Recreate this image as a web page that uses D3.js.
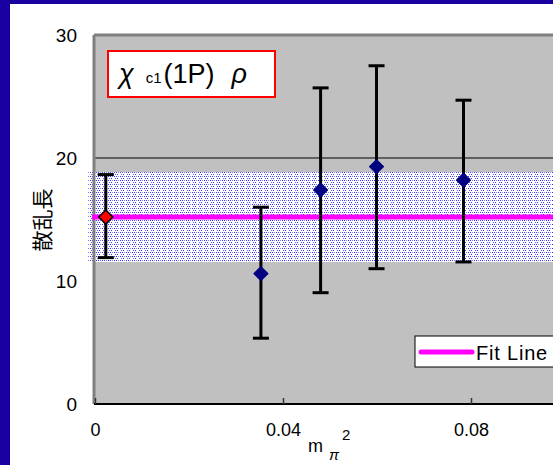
<!DOCTYPE html>
<html>
<head>
<meta charset="utf-8">
<script src="https://cdn.jsdelivr.net/npm/d3@7"></script>
<style>
  body { margin: 0; background: #fff; }
  svg { display: block; font-family: "Liberation Sans", Arial, sans-serif; }
</style>
</head>
<body>
<svg id="chart"></svg>
<script>
// データ
const xValues = [0.0023, 0.0353, 0.048, 0.0599, 0.0784];
const yValues = [15.2, 10.6, 17.4, 19.3, 18.2];
const yUpper = [18.65, 16.0, 25.7, 27.5, 24.7];
const yLower = [11.9, 5.35, 9.05, 11.0, 11.55];
const fitValue = 15.2;
const fitBand = [11.55, 18.85];
const xTicks = [0, 0.04, 0.08];
const yTicks = [0, 10, 20, 30];

const width = 553;
const height = 465;

const svg = d3.select("#chart")
    .attr("width", width)
    .attr("height", height);

// 枠
svg.append("rect").attr("x", 0).attr("y", 0).attr("width", width).attr("height", height).attr("fill", "#1800a0");
svg.append("rect").attr("x", 10).attr("y", 4).attr("width", width - 10).attr("height", height - 4).attr("fill", "#fff");

const plotLeft = 94, plotTop = 35, plotBottom = 404, plotRight = 560;

const x = d3.scaleLinear().domain([0, 0.04]).range([95, 283]);
const y = d3.scaleLinear().domain([0, 30]).range([404, 35]);

// パターン (帯)
const defs = svg.append("defs");
const pat = defs.append("pattern")
    .attr("id", "band")
    .attr("width", 6).attr("height", 4)
    .attr("patternUnits", "userSpaceOnUse");
pat.append("rect").attr("width", 6).attr("height", 4).attr("fill", "#fff");
pat.append("rect").attr("x", 0).attr("y", 0).attr("width", 1).attr("height", 1).attr("fill", "#3030ff");
pat.append("rect").attr("x", 2).attr("y", 0).attr("width", 1).attr("height", 1).attr("fill", "#3030ff");
pat.append("rect").attr("x", 4).attr("y", 0).attr("width", 1).attr("height", 1).attr("fill", "#8080ff");
pat.append("rect").attr("x", 1).attr("y", 2).attr("width", 1).attr("height", 1).attr("fill", "#6060ff");
pat.append("rect").attr("x", 3).attr("y", 2).attr("width", 1).attr("height", 1).attr("fill", "#3030ff");

// 背景
svg.append("rect")
    .attr("x", plotLeft).attr("y", plotTop)
    .attr("width", plotRight - plotLeft).attr("height", plotBottom - plotTop)
    .attr("fill", "#c0c0c0");

// グリッド線 (20 のみ)
svg.append("line")
    .attr("x1", plotLeft).attr("x2", plotRight)
    .attr("y1", y(20)).attr("y2", y(20))
    .attr("stroke", "#000").attr("stroke-width", 1);

// 帯
svg.append("rect")
    .attr("x", 88).attr("y", y(fitBand[1]))
    .attr("width", plotRight - 88).attr("height", y(fitBand[0]) - y(fitBand[1]))
    .attr("fill", "url(#band)");

// 枠線
svg.append("line").attr("x1", plotLeft).attr("x2", plotLeft).attr("y1", plotTop).attr("y2", plotBottom)
    .attr("stroke", "#808080").attr("stroke-width", 3);
svg.append("line").attr("x1", plotLeft).attr("x2", plotRight).attr("y1", plotTop).attr("y2", plotTop)
    .attr("stroke", "#808080").attr("stroke-width", 3);

// フィット線
svg.append("line")
    .attr("x1", 92).attr("x2", plotRight)
    .attr("y1", y(fitValue)).attr("y2", y(fitValue))
    .attr("stroke", "#ff00ff").attr("stroke-width", 5);

// x 軸
const xAxis = svg.append("g")
    .attr("transform", `translate(0, ${plotBottom})`)
    .call(d3.axisBottom(x).tickValues(xTicks).tickSizeInner(-6).tickSizeOuter(0).tickPadding(19)
        .tickFormat(d => d === 0 ? "0" : d3.format(".2f")(d)));
xAxis.attr("font-size", null).attr("font-family", null);
xAxis.select(".domain").attr("stroke", "#000").attr("stroke-width", 2).attr("d", `M${plotLeft},0H${plotRight}`);
xAxis.selectAll(".tick line").attr("stroke", "#333").attr("stroke-width", 1.5);
xAxis.selectAll(".tick text").style("font-size", "18px").attr("fill", "#000");

// y 軸
const yAxis = svg.append("g")
    .attr("transform", `translate(77, 0)`)
    .call(d3.axisLeft(y).tickValues(yTicks).tickSize(0).tickPadding(0));
yAxis.attr("font-size", null).attr("font-family", null);
yAxis.select(".domain").remove();
yAxis.selectAll(".tick text").style("font-size", "19px").attr("fill", "#000");

// エラーバー
const pts = xValues.map((v, i) => ({x: v, y: yValues[i], hi: yUpper[i], lo: yLower[i], i}));
const eb = svg.append("g");
eb.selectAll(".v").data(pts).join("line")
    .attr("x1", d => x(d.x)).attr("x2", d => x(d.x))
    .attr("y1", d => y(d.hi)).attr("y2", d => y(d.lo))
    .attr("stroke", "#000").attr("stroke-width", 3);
["hi", "lo"].forEach(k => {
  eb.selectAll(".c" + k).data(pts).join("line")
      .attr("x1", d => x(d.x) - 8).attr("x2", d => x(d.x) + 8)
      .attr("y1", d => y(d[k])).attr("y2", d => y(d[k]))
      .attr("stroke", "#000").attr("stroke-width", 3);
});

// マーカー
const diamond = d3.symbol().type(d3.symbolSquare).size(100);
svg.selectAll(".pt").data(pts).join("path")
    .attr("d", diamond)
    .attr("transform", d => `translate(${x(d.x)}, ${y(d.y)}) rotate(45)`)
    .attr("fill", d => d.i === 0 ? "#ff0000" : "#000080")
    .attr("stroke", d => d.i === 0 ? "#000" : "#000080")
    .attr("stroke-width", d => d.i === 0 ? 1.5 : 1)
    .attr("stroke-linejoin", "round");

// タイトル
svg.append("rect")
    .attr("x", 108).attr("y", 51).attr("width", 167).attr("height", 46)
    .attr("fill", "#fff").attr("stroke", "#ff0000").attr("stroke-width", 2);
const title = svg.append("text").attr("x", 119).attr("y", 83).attr("font-size", 27).attr("fill", "#000");
title.append("tspan").attr("font-style", "italic").text("χ");
title.append("tspan").attr("font-size", 15).attr("dx", 12).attr("dy", 0).text("c1");
title.append("tspan").attr("dx", 2).text("(1P)");
title.append("tspan").attr("dx", 17).attr("font-style", "italic").text("ρ");

// 凡例
svg.append("rect")
    .attr("x", 415).attr("y", 336).attr("width", 160).attr("height", 31)
    .attr("fill", "#fff").attr("stroke", "#000").attr("stroke-width", 1);
svg.append("line")
    .attr("x1", 421).attr("x2", 472).attr("y1", 352).attr("y2", 352)
    .attr("stroke", "#ff00ff").attr("stroke-width", 5).attr("stroke-linecap", "round");
svg.append("text").attr("x", 476).attr("y", 360).attr("font-size", 20)
    .attr("letter-spacing", 0.8).attr("fill", "#000").text("Fit Line");

// 軸ラベル
const xl = svg.append("text").attr("x", 308).attr("y", 452).attr("font-size", 18).attr("fill", "#000");
xl.append("tspan").text("m");
xl.append("tspan").attr("dx", 6).attr("dy", 8).attr("font-style", "italic").attr("font-size", 15).text("π");
xl.append("tspan").attr("dx", 3).attr("dy", -20).attr("font-size", 15).text("2");

svg.append("text")
    .attr("transform", "translate(50, 220) rotate(-90)")
    .attr("text-anchor", "middle")
    .attr("font-size", 21)
    .attr("font-family", "Noto Sans CJK JP, sans-serif")
    .attr("fill", "#000")
    .text("散乱長");
</script>
</body>
</html>
